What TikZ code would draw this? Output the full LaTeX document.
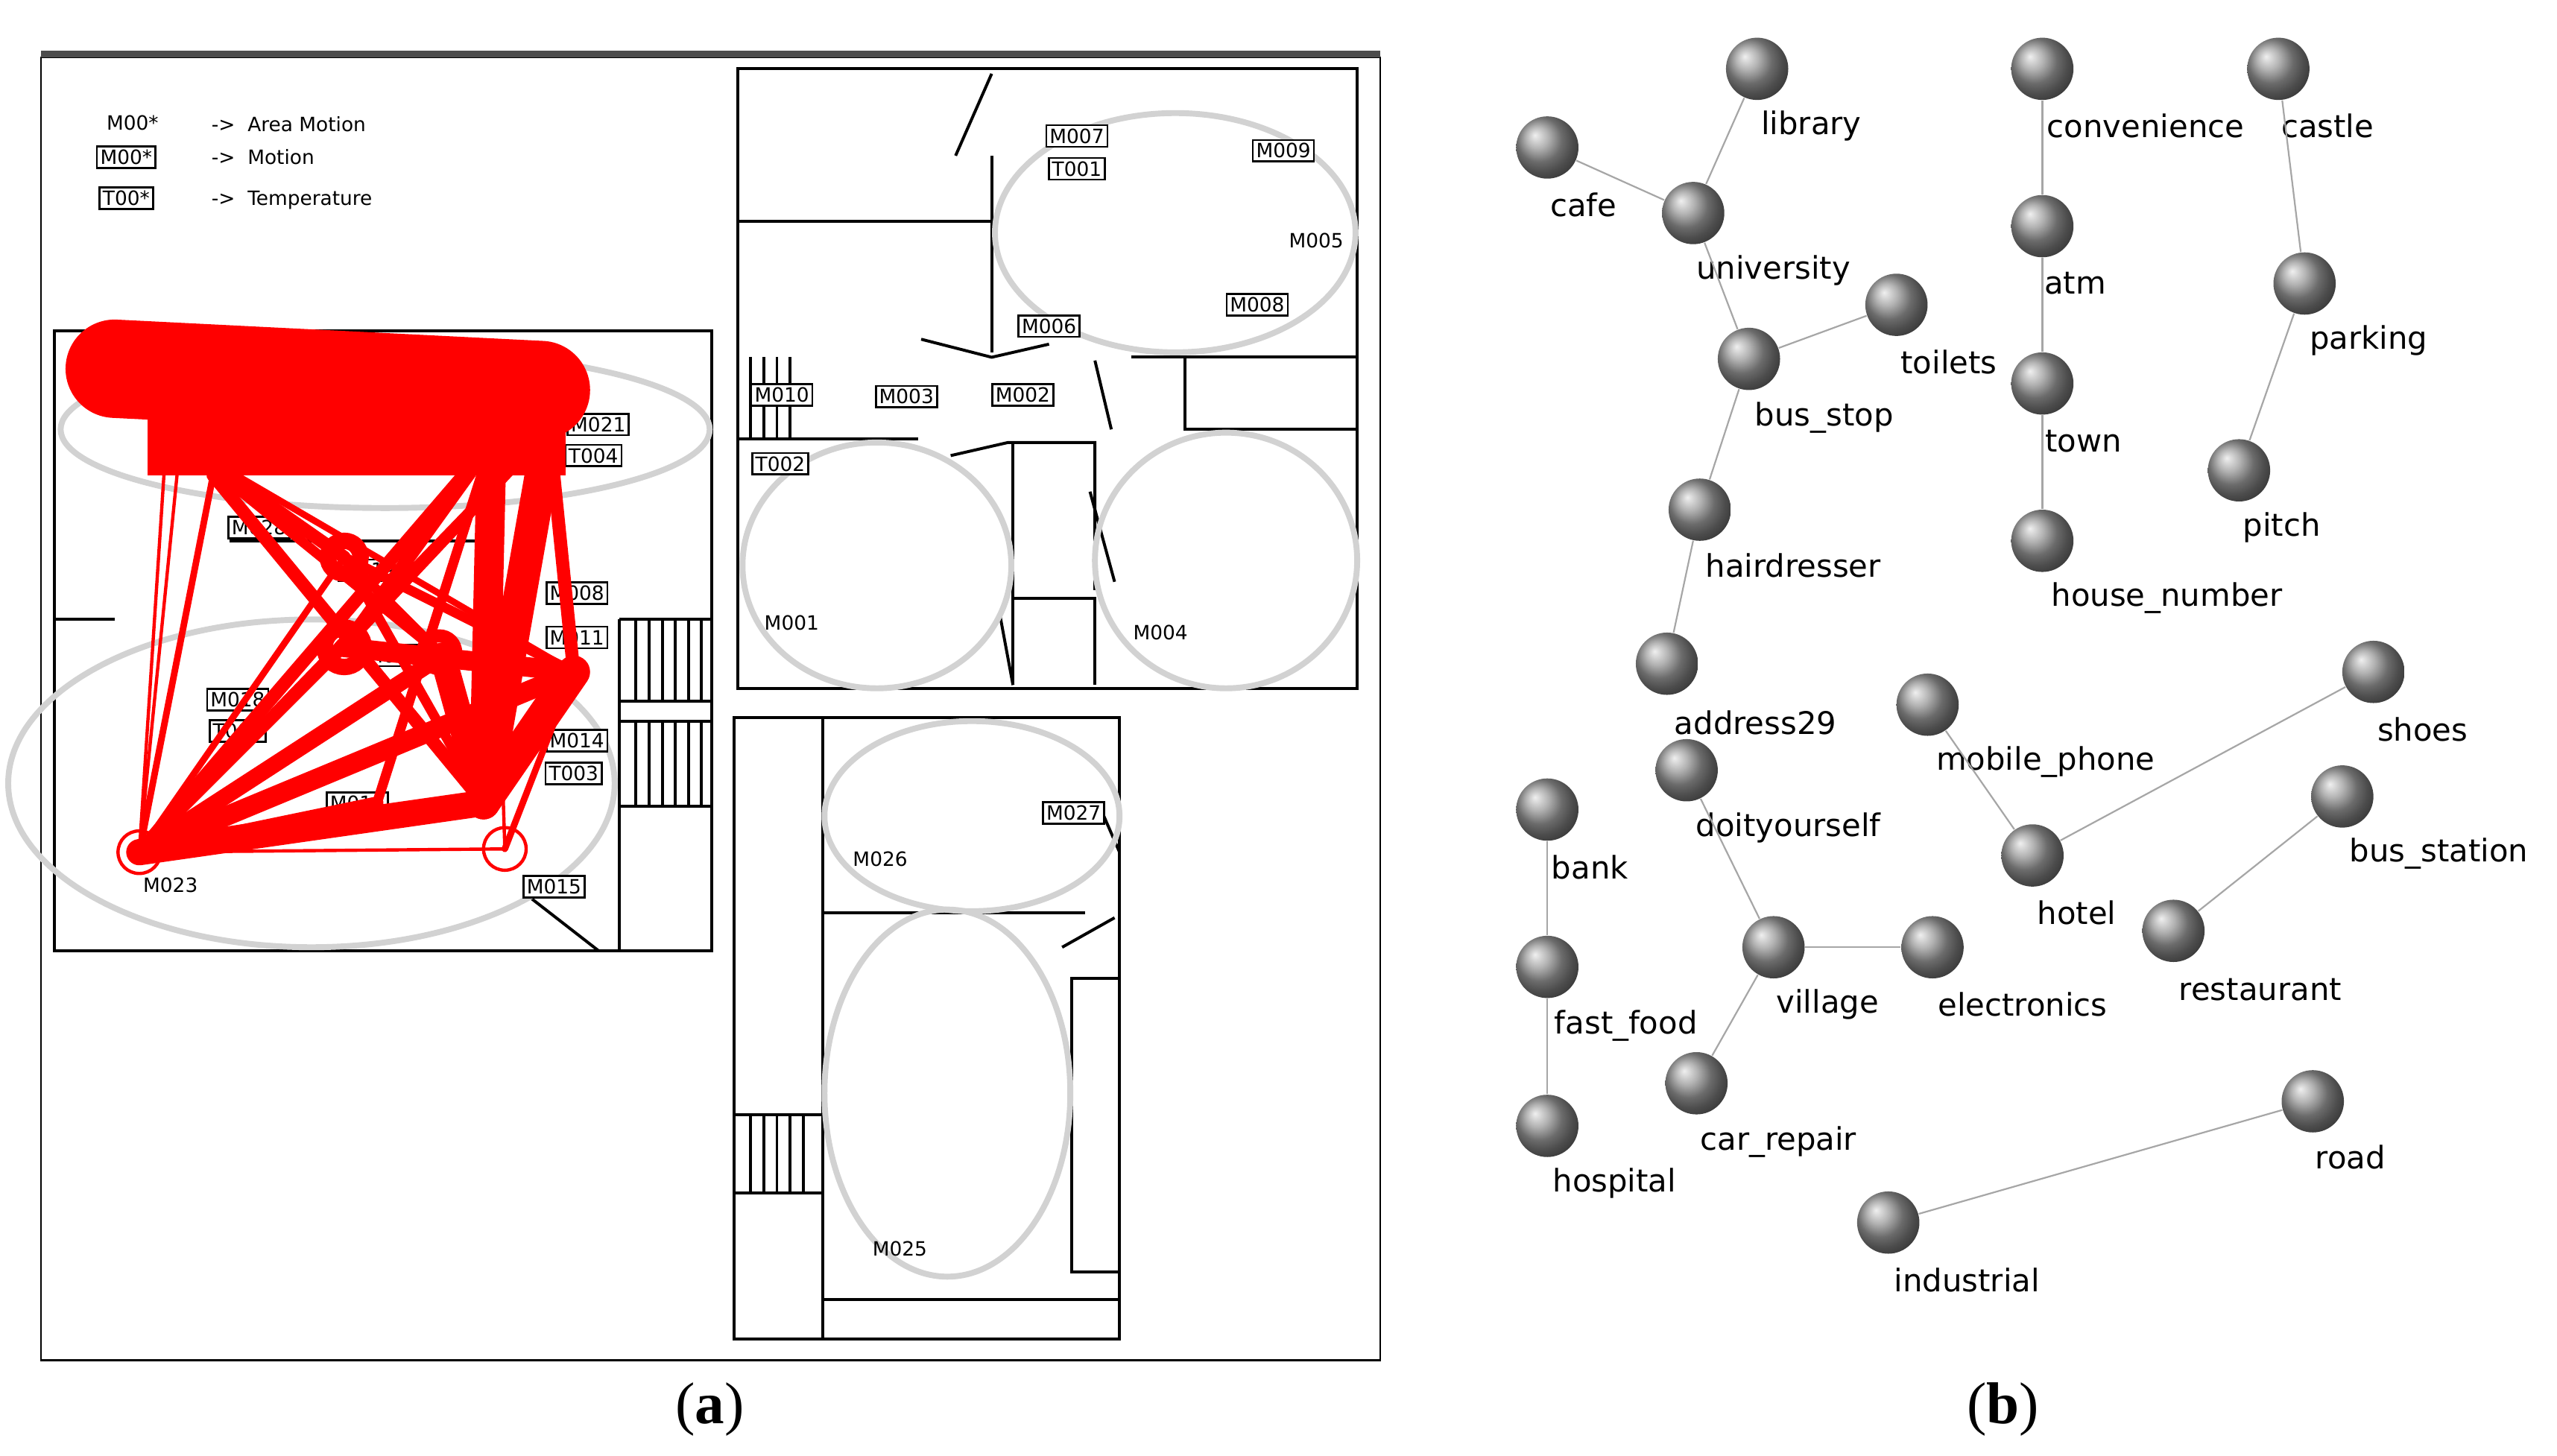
\documentclass[tikz,border=0pt]{standalone}
\usepackage{fontspec}
\setmainfont{Liberation Serif}
\newfontfamily\lab{DejaVu Sans}
\begin{document}
\begin{tikzpicture}[x=0.5pt,y=-0.5pt,
  sb/.style={draw,line width=0.6pt,inner sep=1pt,font=\lab\fontsize{6}{6}\selectfont,fill=white},
  st/.style={font=\lab\fontsize{6}{6}\selectfont},
  wall/.style={line width=0.9pt},
  ell/.style={draw=gray!35,line width=1.8pt},
  rl/.style={draw=red,line cap=round},
  ball/.style={circle,minimum size=19pt,inner sep=0pt,shading=ball,ball color=gray!80},
  bl/.style={font=\lab\fontsize{9.5}{10}\selectfont},
  edge/.style={draw=gray!70,line width=0.5pt}]
\useasboundingbox (0,0) rectangle (1560,888);
% ---- panel a
\draw[line width=0.6pt] (25,35) rectangle (842,830);
\draw[line width=2pt,gray!60!black] (25,33) -- (842,33);
\node[st,anchor=west] (l1) at (58,75) {M00*};
\node[sb] (l2) at (77,96) {M00*};
\node[sb] (l3) at (77,121) {T00*};
\node[st,anchor=west] (l4) at (122,76) {->\ \ Area Motion};
\node[st,anchor=west] (l5) at (122,96) {->\ \ Motion};
\node[st,anchor=west] (l6) at (122,122) {->\ \ Temperature};
% buildings
\draw[wall] (33,202) rectangle (434,580);
\draw[wall] (450,42) rectangle (828,420);
\draw[wall] (448,438) rectangle (683,817);
% inner walls top right
\draw[wall] (450,135) -- (605,135) -- (605,215);
\draw[wall] (605,95) -- (605,135);
\draw[wall] (583,95) -- (605,45);
\draw[wall] (450,268) -- (560,268);
\draw[wall] (580,278) -- (615,270) -- (668,270) -- (668,360);
\draw[wall] (618,270) -- (618,418);
\draw[wall] (618,365) -- (668,365) -- (668,418);
\draw[wall] (610,375) -- (618,418);
\draw[wall] (562,207) -- (605,218) -- (640,210);
\draw[wall] (668,220) -- (678,262);
\draw[wall] (690,218) -- (828,218);
\draw[wall] (723,218) -- (723,262) -- (828,262);
\draw[wall] (665,300) -- (680,355);
\foreach \x in {458,466,474,482} \draw[wall] (\x,218) -- (\x,268);
% bottom building walls
\draw[wall] (502,438) -- (502,817);
\draw[wall] (502,557) -- (662,557);
\draw[wall] (502,793) -- (683,793);
\draw[wall] (654,597) rectangle (683,776);
\draw[wall] (648,578) -- (680,560);
\draw[wall] (670,490) -- (683,520);
\draw[wall] (448,680) -- (502,680);
\draw[wall] (448,728) -- (502,728);
\foreach \x in {458,466,474,482,490} \draw[wall] (\x,680) -- (\x,728);
% left building walls
\draw[wall] (33,378) -- (70,378);
\draw[wall] (378,378) -- (434,378);
\draw[wall] (378,378) -- (378,580);
\draw[wall] (378,428) -- (434,428);
\draw[wall] (378,440) -- (434,440);
\draw[wall] (378,492) -- (434,492);
\foreach \x in {388,396,404,412,420,428} {\draw[wall] (\x,378) -- (\x,428); \draw[wall] (\x,440) -- (\x,492);}
\draw[wall] (320,545) -- (365,580);
\draw[wall] (225,580) -- (310,580);
\draw[wall] (140,330) -- (305,330);
% ellipses
\draw[ell] (235,262) ellipse [x radius=198,y radius=48];
\draw[ell] (190,478) ellipse [x radius=185,y radius=100];
\draw[ell] (717,142) ellipse [x radius=110,y radius=73];
\draw[ell] (535,345) ellipse [x radius=82,y radius=75];
\draw[ell] (748,342) ellipse [x radius=80,y radius=78];
\draw[ell] (593,498) ellipse [x radius=90,y radius=58];
\draw[ell] (578,667) ellipse [x radius=75,y radius=112];
% labels panel a
\node[sb] (m7) at (657,83) {M007};
\node[sb] (t1) at (657,103) {T001};
\node[sb] (m9) at (783,92) {M009};
\node[st] (m5) at (803,147) {M005};
\node[sb] (m8) at (767,186) {M008};
\node[sb] (m6) at (640,199) {M006};
\node[sb] (m10) at (477,241) {M010};
\node[sb] (m3) at (553,242) {M003};
\node[sb] (m2) at (624,241) {M002};
\node[sb] (t2) at (476,283) {T002};
\node[st] (m1) at (483,380) {M001};
\node[st] (m4) at (708,386) {M004};
\node[sb] (m27) at (655,496) {M027};
\node[st] (m26) at (537,524) {M026};
\node[st] (m25) at (549,762) {M025};
\node[sb] (m21) at (365,259) {M021};
\node[sb] (t4) at (362,278) {T004};
\node[sb] (m28) at (158,322) {M028};
\node[sb] (m19) at (225,348) {M019};
\node[sb] (m08) at (352,362) {M008};
\node[sb] (m11) at (352,389) {M011};
\node[sb] (m17) at (240,400) {M017};
\node[sb] (m18) at (145,427) {M018};
\node[sb] (t5) at (145,446) {T005};
\node[sb] (m14) at (352,452) {M014};
\node[sb] (t3) at (350,472) {T003};
\node[sb] (m16) at (218,490) {M016};
\node[sb] (m15) at (338,541) {M015};
\node[st] (m23) at (104,540) {M023};
% red traces
\coordinate (A) at (85,520); \coordinate (B) at (300,270); \coordinate (C) at (110,270);
\coordinate (D) at (210,340); \coordinate (E) at (210,395); \coordinate (F) at (270,400);
\coordinate (G) at (350,410); \coordinate (H) at (295,490); \coordinate (I) at (335,262);
\coordinate (J) at (308,518); \coordinate (K) at (230,490); \coordinate (L) at (130,290);
\draw[rl,line width=30pt] (70,225) -- (330,238);
\fill[red] (90,240) rectangle (345,290);
\draw[rl,line width=1pt] (85,520) circle (13);
\draw[rl,line width=1pt] (308,518) circle (13);
\foreach \p/\w in {B/4,C/1,D/2,E/3,F/5,G/6,H/8,I/3,K/4,L/2,J/1} \draw[rl,line width=\w pt] (A) -- (\p);
\foreach \p/\q/\w in {D/H/3,E/G/6,F/H/8,B/H/9,I/H/10,C/D/4,C/F/3,D/G/3,E/F/5,L/H/4,I/E/3,B/E/4,D/F/3,G/H/10,C/G/2,I/G/4,B/K/3,J/G/2,J/B/1} \draw[rl,line width=\w pt] (\p) -- (\q);
\draw[rl,line width=5pt] (210,340) circle (10);
\draw[rl,line width=5pt] (210,395) circle (12);
\draw[rl,line width=4pt] (268,398) circle (10);
\draw[rl,line width=1pt] (85,520) -- (100,290);
% ---- panel b
\foreach \n/\x/\y/\t/\lx/\ly in {library/1072/42/library/1105/77, cafe/944/90/cafe/966/125,
 university/1033/130/university/1082/165, toilets/1157/186/toilets/1189/221,
 busstop/1067/219/bus\_stop/1113/255, hairdresser/1037/311/hairdresser/1094/345,
 address/1017/405/address29/1071/441, convenience/1246/42/convenience/1309/77,
 atm/1246/138/atm/1266/173, town/1246/234/town/1271/269,
 house/1246/330/house\_number/1322/365, castle/1390/42/castle/1420/77,
 parking/1406/173/parking/1445/208, pitch/1366/287/pitch/1392/322,
 mobile/1176/430/mobile\_phone/1248/465, shoes/1448/410/shoes/1478/445,
 hotel/1240/522/hotel/1267/557, busstation/1429/486/bus\_station/1488/521,
 restaurant/1326/568/restaurant/1379/604, diy/1029/470/doityourself/1091/505,
 village/1082/578/village/1115/613, electronics/1179/578/electronics/1234/613,
 carrepair/1035/661/car\_repair/1085/697, bank/944/494/bank/970/529,
 fastfood/944/590/fast\_food/992/626, hospital/944/687/hospital/985/722,
 road/1411/672/road/1434/706, industrial/1152/746/industrial/1200/781}
 {\node[ball] (\n) at (\x,\y) {}; \node[bl] (\n-l) at (\lx,\ly) {\t};}
\foreach \a/\b in {library/university,cafe/university,university/busstop,toilets/busstop,
 busstop/hairdresser,hairdresser/address,convenience/atm,atm/town,town/house,castle/parking,
 parking/pitch,mobile/hotel,hotel/shoes,busstation/restaurant,diy/village,village/electronics,
 village/carrepair,bank/fastfood,fastfood/hospital,road/industrial}
 \draw[edge] (\a) -- (\b);
\node[font=\fontsize{18}{18}\selectfont] (capa) at (433,860) {(\textbf{a})};
\node[font=\fontsize{18}{18}\selectfont] (capb) at (1222,860) {(\textbf{b})};
\end{tikzpicture}
\end{document}
